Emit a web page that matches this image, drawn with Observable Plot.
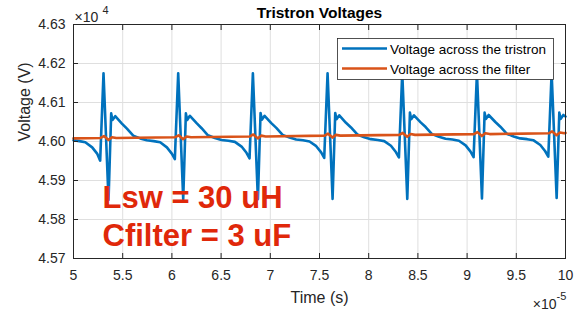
<!DOCTYPE html>
<html><head><meta charset="utf-8">
<script src="https://cdn.jsdelivr.net/npm/d3@7"></script>
<script src="https://cdn.jsdelivr.net/npm/@observablehq/plot@0.6"></script>
<style>html,body{margin:0;padding:0;background:#fff;} #chart{width:586px;height:314px;}</style>
</head><body><div id="chart"></div>
<script>
// Time in units of 1e-5 s, voltage in units of 1e4 V (as shown on the axes)
const timeTristron = [
  5.000,5.060,5.120,5.190,5.240,
  5.271,5.305,5.356,5.383,5.396,5.424,5.492,5.543,5.607,5.678,5.745,5.815,5.881,5.949,5.999,
  6.030,6.064,6.115,6.142,6.155,6.183,6.251,6.302,6.366,6.437,6.504,6.574,6.640,6.708,6.758,
  6.789,6.823,6.874,6.901,6.914,6.942,7.010,7.061,7.125,7.196,7.263,7.333,7.399,7.467,7.517,
  7.548,7.582,7.633,7.660,7.673,7.701,7.769,7.820,7.884,7.955,8.022,8.092,8.158,8.226,8.276,
  8.307,8.341,8.392,8.419,8.432,8.460,8.528,8.579,8.643,8.714,8.781,8.851,8.917,8.985,9.035,
  9.066,9.100,9.151,9.178,9.191,9.219,9.287,9.338,9.402,9.473,9.540,9.610,9.676,9.744,9.794,
  9.825,9.859,9.910,9.937,9.950,9.978,10.000
];
const voltTristron = [
  4.6003,4.6001,4.5998,4.5985,4.5969,
  4.5951,4.6175,4.5850,4.6072,4.6055,4.6065,4.6046,4.6033,4.6015,4.6008,4.6003,4.6001,4.5998,4.5985,4.5969,
  4.5955,4.6175,4.5852,4.6072,4.6055,4.6066,4.6047,4.6034,4.6016,4.6009,4.6004,4.6002,4.5999,4.5987,4.5971,
  4.5957,4.6175,4.5852,4.6073,4.6056,4.6066,4.6047,4.6035,4.6017,4.6010,4.6005,4.6003,4.6000,4.5988,4.5972,
  4.5958,4.6175,4.5853,4.6073,4.6057,4.6067,4.6048,4.6036,4.6018,4.6011,4.6006,4.6004,4.6001,4.5989,4.5973,
  4.5959,4.6176,4.5853,4.6074,4.6057,4.6067,4.6049,4.6037,4.6019,4.6012,4.6007,4.6005,4.6002,4.5990,4.5974,
  4.5960,4.6176,4.5854,4.6074,4.6058,4.6068,4.6050,4.6038,4.6020,4.6013,4.6008,4.6006,4.6003,4.5991,4.5975,
  4.5961,4.6176,4.5855,4.6074,4.6058,4.6068,4.6064
];
const timeFilter = [
  5.000,
  5.275,5.310,5.355,5.390,5.435,
  6.034,6.069,6.114,6.149,6.194,
  6.793,6.828,6.873,6.908,6.953,
  7.552,7.587,7.632,7.667,7.712,
  8.311,8.346,8.391,8.426,8.471,
  9.070,9.105,9.150,9.185,9.230,
  9.829,9.864,9.909,9.944,9.989,
  10.000
];
const voltFilter = [
  4.6008,
  4.6009,4.6014,4.6004,4.6011,4.6009,
  4.6011,4.6016,4.6006,4.6013,4.6011,
  4.6013,4.6018,4.6008,4.6015,4.6013,
  4.6015,4.6020,4.6010,4.6017,4.6015,
  4.6017,4.6022,4.6012,4.6019,4.6017,
  4.6019,4.6024,4.6014,4.6021,4.6019,
  4.6021,4.6026,4.6016,4.6023,4.6021,
  4.6022
];
const xTicks = [5, 5.5, 6, 6.5, 7, 7.5, 8, 8.5, 9, 9.5, 10];
const yTicks = [4.57, 4.58, 4.59, 4.60, 4.61, 4.62, 4.63];
const seriesNames = ["Voltage across the tristron", "Voltage across the filter"];
const seriesColors = ["#0072BD", "#D95319"];
const titleText = "Tristron Voltages";
const xLabel = "Time (s)";
const yLabel = "Voltage (V)";
const annotations = ["Lsw = 30 uH", "Cfilter = 3 uF"];

const tristron = timeTristron.map((t, i) => ({t, v: voltTristron[i]}));
const filter = timeFilter.map((t, i) => ({t, v: voltFilter[i]}));
const ink = "#262626";
const fmtX = d => String(d);
const fmtY = d3.format(".2f");

const chart = Plot.plot({
  width: 586, height: 314,
  marginLeft: 73, marginRight: 21, marginTop: 24, marginBottom: 56,
  style: {fontFamily: "'Liberation Sans', Arial, sans-serif", fontSize: "14px", color: ink, background: "#fff", overflow: "visible"},
  x: {domain: [5, 10], label: null},
  y: {domain: [4.57, 4.63], label: null},
  marks: [
    Plot.gridX(xTicks, {stroke: "#dfdfdf", strokeOpacity: 1}),
    Plot.gridY(yTicks, {stroke: "#dfdfdf", strokeOpacity: 1}),
    Plot.line(tristron, {x: "t", y: "v", stroke: seriesColors[0], strokeWidth: 2.6}),
    Plot.line(filter, {x: "t", y: "v", stroke: seriesColors[1], strokeWidth: 2.6}),
    Plot.frame({stroke: ink, strokeWidth: 1}),
    Plot.axisX(xTicks, {anchor: "bottom", tickSize: -5, tickPadding: 17, tickFormat: fmtX, label: null, fill: ink}),
    Plot.axisX(xTicks, {anchor: "top", tickSize: -5, tickFormat: () => "", label: null}),
    Plot.axisY(yTicks, {anchor: "left", tickSize: -5, tickPadding: 13, tickFormat: fmtY, label: null, fill: ink}),
    Plot.axisY(yTicks, {anchor: "right", tickSize: -5, tickFormat: () => "", label: null}),
    Plot.text([titleText], {text: d => d, frameAnchor: "top", lineAnchor: "bottom", dy: -7, fontWeight: "bold", fontSize: 15.5, fill: "#000"}),
    Plot.text([xLabel], {text: d => d, frameAnchor: "bottom", lineAnchor: "bottom", dy: 44, fontSize: 16, fill: ink}),
    Plot.text([yLabel], {text: d => d, frameAnchor: "left", rotate: -90, dx: -49, fontSize: 16, fill: ink}),
    Plot.text(["×10"], {text: d => d, frameAnchor: "top-left", textAnchor: "start", lineAnchor: "bottom", dx: 1, dy: -3, fontSize: 14, fill: ink}),
    Plot.text(["4"], {text: d => d, frameAnchor: "top-left", textAnchor: "start", lineAnchor: "bottom", dx: 29, dy: -11, fontSize: 11, fill: ink}),
    Plot.text(["×10"], {text: d => d, frameAnchor: "bottom-right", textAnchor: "end", lineAnchor: "bottom", dx: -9, dy: 50, fontSize: 14, fill: ink}),
    Plot.text(["-5"], {text: d => d, frameAnchor: "bottom-right", textAnchor: "start", lineAnchor: "bottom", dx: -9, dy: 41, fontSize: 11, fill: ink}),
    Plot.text([annotations[0]], {text: d => d, frameAnchor: "top-left", textAnchor: "start", lineAnchor: "bottom", dx: 29, dy: 183, fontSize: 31, fontWeight: "bold", fill: "#e0280a"}),
    Plot.text([annotations[1]], {text: d => d, frameAnchor: "top-left", textAnchor: "start", lineAnchor: "bottom", dx: 29, dy: 221, fontSize: 31, fontWeight: "bold", fill: "#e0280a"})
  ]
});
document.getElementById("chart").append(chart);

// Legend box (drawn over the plot, like MATLAB's legend)
const svg = d3.select(chart);
const lg = svg.append("g")
  .attr("font-family", "'Liberation Sans', Arial, sans-serif")
  .attr("font-size", 13.5)
  .attr("text-anchor", "start");
lg.append("rect").attr("x", 337.5).attr("y", 38.5).attr("width", 216).attr("height", 41)
  .attr("fill", "#fff").attr("stroke", ink).attr("stroke-width", 0.8);
seriesNames.forEach((name, i) => {
  const y = 48.5 + i * 20;
  lg.append("path").attr("d", `M342,${y}H387`)
    .attr("fill", "none").attr("stroke", seriesColors[i]).attr("stroke-width", 2.6);
  lg.append("text").attr("x", 390).attr("y", y + 5.5).attr("text-anchor", "start")
    .attr("fill", "#000").text(name);
});
</script>
</body></html>
